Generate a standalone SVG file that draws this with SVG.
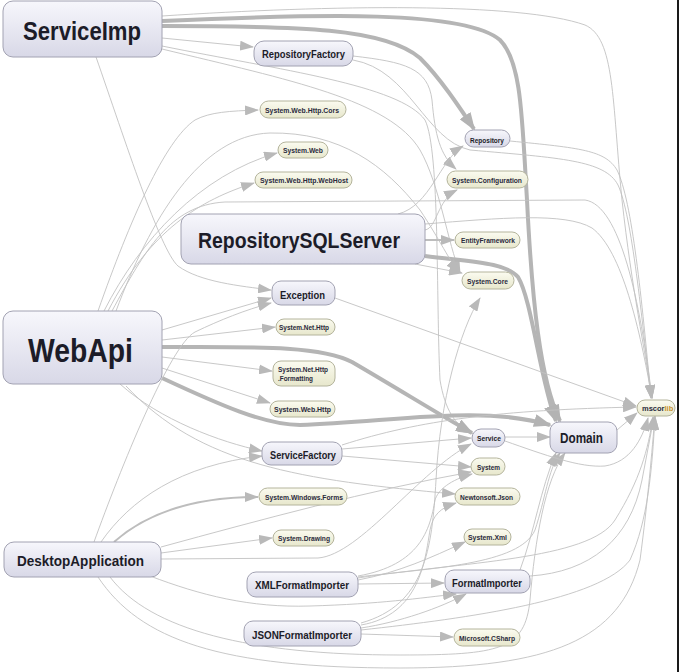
<svg xmlns="http://www.w3.org/2000/svg" width="679" height="672" viewBox="0 0 679 672">
<defs>
<linearGradient id="gp" x1="0" y1="0" x2="0" y2="1"><stop offset="0" stop-color="#f7f7fc"/><stop offset="1" stop-color="#d8d8e7"/></linearGradient>
<linearGradient id="gl" x1="0" y1="0" x2="0" y2="1"><stop offset="0" stop-color="#fbfbf0"/><stop offset="1" stop-color="#e7e7cc"/></linearGradient>
<marker id="a" markerUnits="userSpaceOnUse" markerWidth="14" markerHeight="10" refX="13" refY="5" orient="auto"><path d="M0,0 L14,5 L0,10 z" fill="#b9b9b9"/></marker>
<marker id="A" markerUnits="userSpaceOnUse" markerWidth="18" markerHeight="13" refX="16" refY="6.5" orient="auto"><path d="M0,0 L18,6.5 L0,13 z" fill="#b3b3b3"/></marker>
</defs>
<style>
.e{fill:none;stroke:#c2c2c2;stroke-width:0.9;marker-end:url(#a)}
.m{fill:none;stroke:#bdbdbd;stroke-width:2;marker-end:url(#a)}
.t{fill:none;stroke:#b5b5b5;stroke-width:4;marker-end:url(#A)}
.p{fill:url(#gp);stroke:#a2a2b2;stroke-width:1}
.l{fill:url(#gl);stroke:#b4b49c;stroke-width:1}
.pt{font-family:"Liberation Sans",Arial,sans-serif;font-weight:bold;fill:#1c1c28}
.lt{font-family:"Liberation Sans",Arial,sans-serif;font-weight:bold;font-size:7.5px;fill:#2a2a3c}
</style>
<rect x="0" y="0" width="679" height="672" fill="#ffffff"/>
<rect x="677" y="0" width="2" height="672" fill="#1a1a1a"/>
<g id="connectors">
<path class="e" d="M162,16 C330,5 520,2 585,25 C615,38 612,100 622,200 C632,290 645,350 652,398"/>
<path class="t" d="M162,21 C320,14 465,10 500,40 C522,62 522,120 527,200 C532,300 540,380 560,421"/>
<path class="t" d="M162,26 C300,26 385,28 420,58 C440,78 458,105 474,129"/>
<path class="e" d="M162,38 L253,47"/>
<path class="e" d="M96,57 C125,140 160,250 178,266 C200,282 240,286 271,290"/>
<path class="e" d="M162,46 C280,70 400,85 425,120 C440,150 436,300 440,380 C445,410 455,425 471,433"/>
<path class="e" d="M162,49 C290,80 390,100 420,150 C440,185 448,245 460,272"/>
<path class="e" d="M353,56 C405,62 428,68 432,100 C435,135 440,155 456,169"/>
<path class="e" d="M353,60 C410,70 425,140 470,150 C560,158 605,160 618,185 C632,215 642,320 651,398"/>
<path class="e" d="M398,214 C430,206 440,160 463,146"/>
<path class="e" d="M425,230 C437,228 437,200 457,190"/>
<path class="m" d="M425,240 L454,240"/>
<path class="e" d="M415,264 L462,273"/>
<path class="t" d="M425,256 C470,262 505,262 518,277 C532,300 540,380 556,421"/>
<path class="e" d="M425,224 C500,218 565,212 592,228 C622,250 640,330 652,398"/>
<path class="e" d="M335,298 L636,406"/>
<path class="e" d="M98,311 C130,220 165,140 195,120 C210,112 230,111 258,110"/>
<path class="e" d="M104,311 C140,240 200,175 277,153"/>
<path class="e" d="M108,311 C150,230 200,200 254,183"/>
<path class="e" d="M112,311 C145,250 170,205 225,202 L585,200 C620,205 640,300 652,398"/>
<path class="e" d="M116,311 C150,220 200,135 270,133 C340,132 385,165 420,210 C440,240 450,262 459,272"/>
<path class="e" d="M162,330 L271,298"/>
<path class="e" d="M162,340 L275,327"/>
<path class="t" d="M162,347 C250,347 320,345 352,362 C400,390 440,415 472,433"/>
<path class="e" d="M162,357 L272,371"/>
<path class="e" d="M162,368 L270,403"/>
<path class="t" d="M162,378 C220,405 265,425 300,425 C400,421 480,405 550,425"/>
<path class="e" d="M120,384 C160,420 220,442 262,451"/>
<path class="e" d="M126,386 C200,465 300,480 455,494"/>
<path class="e" d="M342,449 L471,438"/>
<path class="e" d="M342,456 L471,467"/>
<path class="e" d="M342,445 C420,420 500,410 636,407"/>
<path class="e" d="M94,542 C120,470 170,345 195,332 C220,320 245,310 271,303"/>
<path class="e" d="M101,542 C130,500 180,465 262,456"/>
<path class="m" d="M114,542 C150,510 200,497 258,497"/>
<path class="e" d="M161,547 C260,520 370,490 471,472"/>
<path class="e" d="M161,553 L272,538"/>
<path class="e" d="M161,559 L318,558 C360,555 420,470 471,444"/>
<path class="e" d="M150,576 C200,595 250,608 310,606 C380,604 420,598 456,594"/>
<path class="e" d="M110,577 C150,630 250,655 400,655 C500,655 525,650 530,600 C535,540 545,480 565,453"/>
<path class="e" d="M98,577 C140,640 220,668 400,668 C550,668 620,640 640,560 C648,500 652,450 655,416"/>
<path class="e" d="M358,584 L444,583"/>
<path class="e" d="M358,580 C400,572 430,558 465,542"/>
<path class="e" d="M358,576 C420,565 430,530 435,500 C438,490 450,480 472,474"/>
<path class="e" d="M358,578 C460,562 590,560 615,520 C640,480 648,450 653,417"/>
<path class="e" d="M358,577 C430,568 520,565 535,530 C545,500 548,470 560,453"/>
<path class="e" d="M361,634 L453,637"/>
<path class="e" d="M361,628 C400,622 440,608 466,594"/>
<path class="e" d="M361,625 C420,615 425,560 430,530 C433,515 440,508 456,503"/>
<path class="e" d="M361,623 C425,605 432,550 436,480 C440,400 460,330 480,298"/>
<path class="e" d="M361,630 C470,618 600,600 630,560 C648,520 652,470 655,417"/>
<path class="e" d="M530,576 C590,572 630,540 642,480 L654,417"/>
<path class="e" d="M520,570 C535,530 540,490 556,453"/>
<path class="e" d="M505,437 L550,437"/>
<path class="e" d="M505,441 C545,455 580,468 605,466 C630,462 642,440 648,418"/>
<path class="e" d="M617,430 L637,413"/>
<path class="e" d="M510,141 C580,148 605,150 617,170 C632,200 642,300 651,398"/>
</g>
<g id="ServiceImp"><rect class="p" x="3" y="1" width="159" height="56" rx="10"/><text class="pt" x="23" y="40" font-size="25" textLength="118" lengthAdjust="spacingAndGlyphs">ServiceImp</text></g>
<g id="RepositoryFactory"><rect class="p" x="254" y="41" width="99" height="25" rx="10"/><text class="pt" x="262" y="57.5" font-size="10.5" textLength="83" lengthAdjust="spacingAndGlyphs">RepositoryFactory</text></g>
<g id="RepositorySQLServer"><rect class="p" x="181" y="214" width="244" height="50" rx="10"/><text class="pt" x="198" y="248" font-size="22" textLength="202" lengthAdjust="spacingAndGlyphs">RepositorySQLServer</text></g>
<g id="Exception"><rect class="p" x="272" y="281" width="63" height="24" rx="9"/><text class="pt" x="280" y="298.5" font-size="10.5" textLength="45" lengthAdjust="spacingAndGlyphs">Exception</text></g>
<g id="WebApi"><rect class="p" x="3" y="311" width="159" height="73" rx="10"/><text class="pt" x="28" y="362" font-size="33" textLength="105" lengthAdjust="spacingAndGlyphs">WebApi</text></g>
<g id="ServiceFactory"><rect class="p" x="262" y="442" width="80" height="23" rx="9"/><text class="pt" x="270" y="458.5" font-size="10" textLength="66" lengthAdjust="spacingAndGlyphs">ServiceFactory</text></g>
<g id="DesktopApplication"><rect class="p" x="4" y="542" width="157" height="35" rx="10"/><text class="pt" x="17" y="566" font-size="15" textLength="127" lengthAdjust="spacingAndGlyphs">DesktopApplication</text></g>
<g id="XMLFormatImporter"><rect class="p" x="247" y="572" width="111" height="25" rx="9"/><text class="pt" x="255" y="589" font-size="10.5" textLength="94" lengthAdjust="spacingAndGlyphs">XMLFormatImporter</text></g>
<g id="JSONFormatImporter"><rect class="p" x="244" y="621" width="117" height="25" rx="9"/><text class="pt" x="252" y="639" font-size="10.5" textLength="100" lengthAdjust="spacingAndGlyphs">JSONFormatImporter</text></g>
<g id="FormatImporter"><rect class="p" x="445" y="570" width="85" height="23" rx="9"/><text class="pt" x="452" y="586.5" font-size="10.5" textLength="70" lengthAdjust="spacingAndGlyphs">FormatImporter</text></g>
<g id="Service"><rect class="p" x="472" y="429" width="33" height="18" rx="9"/><text class="pt" x="477" y="441" font-size="7.5" textLength="24" lengthAdjust="spacingAndGlyphs">Service</text></g>
<g id="Domain"><rect class="p" x="550" y="422" width="67" height="31" rx="9"/><text class="pt" x="560" y="443" font-size="14" textLength="43" lengthAdjust="spacingAndGlyphs">Domain</text></g>
<g id="Repository"><rect class="p" x="465" y="130" width="45" height="17" rx="8.5"/><text class="pt" x="470" y="142.5" font-size="7.5" textLength="34" lengthAdjust="spacingAndGlyphs">Repository</text></g>
<g id="SystemWebHttpCors"><rect class="l" x="260" y="101" width="86" height="17" rx="8.5"/><text class="lt" x="265" y="112.5" textLength="74" lengthAdjust="spacingAndGlyphs">System.Web.Http.Cors</text></g>
<g id="SystemWeb"><rect class="l" x="278" y="142" width="50" height="16" rx="8"/><text class="lt" x="283" y="153" textLength="40" lengthAdjust="spacingAndGlyphs">System.Web</text></g>
<g id="SystemWebHttpWebHost"><rect class="l" x="255" y="172" width="97" height="16" rx="8"/><text class="lt" x="260" y="183" textLength="88" lengthAdjust="spacingAndGlyphs">System.Web.Http.WebHost</text></g>
<g id="SystemConfiguration"><rect class="l" x="447" y="171" width="81" height="17" rx="8.5"/><text class="lt" x="452" y="182.5" textLength="70" lengthAdjust="spacingAndGlyphs">System.Configuration</text></g>
<g id="EntityFramework"><rect class="l" x="455" y="232" width="65" height="16" rx="8"/><text class="lt" x="461" y="243" textLength="54" lengthAdjust="spacingAndGlyphs">EntityFramework</text></g>
<g id="SystemCore"><rect class="l" x="462" y="272" width="52" height="17" rx="8.5"/><text class="lt" x="467" y="283.5" textLength="41" lengthAdjust="spacingAndGlyphs">System.Core</text></g>
<g id="SystemNetHttp"><rect class="l" x="276" y="319" width="59" height="16" rx="8"/><text class="lt" x="279" y="330" textLength="50" lengthAdjust="spacingAndGlyphs">System.Net.Http</text></g>
<g id="SystemNetHttpFormatting"><rect class="l" x="273" y="361" width="62" height="25" rx="8"/><text class="lt" x="278" y="372" textLength="50" lengthAdjust="spacingAndGlyphs">System.Net.Http</text><text class="lt" x="278" y="381" textLength="35" lengthAdjust="spacingAndGlyphs">.Formatting</text></g>
<g id="SystemWebHttp"><rect class="l" x="270" y="401" width="65" height="16" rx="8"/><text class="lt" x="274" y="412" textLength="57" lengthAdjust="spacingAndGlyphs">System.Web.Http</text></g>
<g id="System"><rect class="l" x="471" y="458" width="34" height="17" rx="8.5"/><text class="lt" x="477" y="469.5" textLength="23" lengthAdjust="spacingAndGlyphs">System</text></g>
<g id="NewtonsoftJson"><rect class="l" x="455" y="488" width="65" height="17" rx="8.5"/><text class="lt" x="460" y="499.5" textLength="53" lengthAdjust="spacingAndGlyphs">Newtonsoft.Json</text></g>
<g id="SystemXml"><rect class="l" x="464" y="529" width="47" height="16" rx="8"/><text class="lt" x="468" y="540" textLength="39" lengthAdjust="spacingAndGlyphs">System.Xml</text></g>
<g id="MicrosoftCSharp"><rect class="l" x="454" y="629" width="66" height="17" rx="8.5"/><text class="lt" x="459" y="640.5" textLength="56" lengthAdjust="spacingAndGlyphs">Microsoft.CSharp</text></g>
<g id="SystemWindowsForms"><rect class="l" x="259" y="488" width="88" height="17" rx="8.5"/><text class="lt" x="265" y="499.5" textLength="78" lengthAdjust="spacingAndGlyphs">System.Windows.Forms</text></g>
<g id="SystemDrawing"><rect class="l" x="273" y="530" width="61" height="16" rx="8"/><text class="lt" x="278" y="541" textLength="52" lengthAdjust="spacingAndGlyphs">System.Drawing</text></g>
<g id="mscorlib"><rect class="l" x="637" y="400" width="38" height="16" rx="8"/><text class="lt" x="642" y="411">mscor<tspan fill="#c8912a">lib</tspan></text></g>
</svg>
